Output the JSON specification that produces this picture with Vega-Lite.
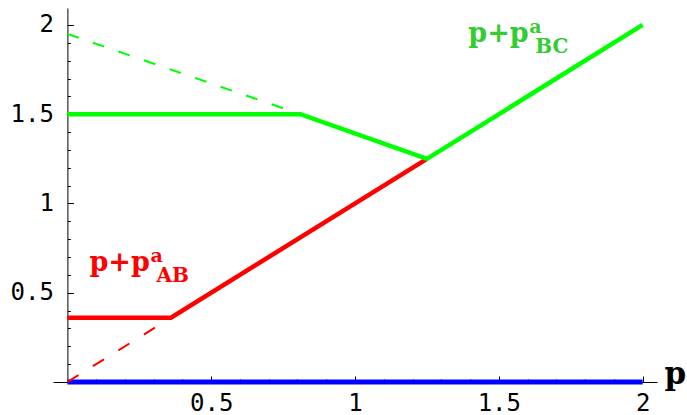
{
  "$schema": "https://vega.github.io/schema/vega-lite/v6.json",
  "width": 604,
  "height": 374,
  "autosize": {"type": "none"},
  "padding": {"left": 53, "top": 8, "right": 30, "bottom": 33},
  "background": "white",
  "config": {
    "view": {"stroke": null},
    "axis": {
      "grid": false,
      "domainColor": "black",
      "domainWidth": 1,
      "tickColor": "black",
      "tickWidth": 1,
      "labelFont": "DejaVu Sans Mono",
      "labelFontSize": 24,
      "labelColor": "black",
      "labelOverlap": false,
      "labelFlush": false
    }
  },
  "resolve": {"axis": {"x": "independent", "y": "independent"}},
  "datasets": {
    "lines": [
      {"s": "blue", "x": 0, "y": 0},
      {"s": "blue", "x": 2, "y": 0},
      {"s": "redDash", "x": 0, "y": 0},
      {"s": "redDash", "x": 0.36, "y": 0.36},
      {"s": "red", "x": 0, "y": 0.36},
      {"s": "red", "x": 0.36, "y": 0.36},
      {"s": "red", "x": 1.25, "y": 1.25},
      {"s": "greenDash", "x": 0, "y": 1.95},
      {"s": "greenDash", "x": 0.81, "y": 1.5},
      {"s": "green", "x": 0, "y": 1.5},
      {"s": "green", "x": 0.81, "y": 1.5},
      {"s": "green", "x": 1.25, "y": 1.25},
      {"s": "green", "x": 2, "y": 2}
    ],
    "labels": [
      {"x": 0.0765, "y": 0.622, "main": "p+p", "sup": "a", "sub": "AB", "c": "red"},
      {"x": 1.394, "y": 1.905, "main": "p+p", "sup": "a", "sub": "BC", "c": "green"}
    ]
  },
  "layer": [
    {
      "data": {"name": "lines"},
      "transform": [{"filter": "datum.s == 'blue'"}],
      "mark": {"type": "line", "color": "#0000ff", "strokeWidth": 5},
      "encoding": {
        "x": {
          "field": "x", "type": "quantitative",
          "scale": {"domain": [-0.05, 2.05], "nice": false, "zero": false},
          "axis": {
            "orient": "bottom",
            "values": [0.5, 1, 1.5, 2],
            "tickSize": -6,
            "labelExpr": "datum.value == 1 ? '1' : datum.value == 2 ? '2' : datum.label",
            "format": ".1f",
            "labelPadding": 15,
            "labelBaseline": "top",
            "title": "p",
            "titleFont": "DejaVu Serif",
            "titleFontWeight": "bold",
            "titleFontSize": 31,
            "titleColor": "black",
            "titleX": 611,
            "titleY": 1,
            "titleAlign": "left",
            "titleBaseline": "alphabetic",
            "titleAngle": 0
          }
        },
        "y": {
          "field": "y", "type": "quantitative",
          "scale": {"domain": [0, 2.095], "nice": false, "zero": false},
          "axis": {
            "orient": "left",
            "offset": -14.4,
            "values": [0.5, 1, 1.5, 2],
            "tickSize": -6,
            "labelExpr": "datum.value == 1 ? '1' : datum.value == 2 ? '2' : datum.label",
            "format": ".1f",
            "labelPadding": 20,
            "labelBaseline": "middle",
            "title": null
          }
        }
      }
    },
    {
      "data": {"name": "lines"},
      "transform": [{"filter": "datum.s == 'redDash'"}],
      "mark": {"type": "line", "color": "#ff0000", "strokeWidth": 2, "strokeDash": [13, 17]},
      "encoding": {
        "x": {"field": "x", "type": "quantitative",
          "axis": {"orient": "bottom", "values": [0.1,0.2,0.3,0.4,0.6,0.7,0.8,0.9,1.1,1.2,1.3,1.4,1.6,1.7,1.8,1.9], "tickSize": -3, "labels": false, "domain": false, "title": null}},
        "y": {"field": "y", "type": "quantitative",
          "axis": {"orient": "left", "offset": -14.4, "values": [0.1,0.2,0.3,0.4,0.6,0.7,0.8,0.9,1.1,1.2,1.3,1.4,1.6,1.7,1.8,1.9], "tickSize": -3, "labels": false, "domain": false, "title": null}}
      }
    },
    {
      "data": {"name": "lines"},
      "transform": [{"filter": "datum.s == 'red'"}],
      "mark": {"type": "line", "color": "#ff0000", "strokeWidth": 4.5},
      "encoding": {"x": {"field": "x", "type": "quantitative", "axis": null}, "y": {"field": "y", "type": "quantitative", "axis": null}}
    },
    {
      "data": {"name": "lines"},
      "transform": [{"filter": "datum.s == 'greenDash'"}],
      "mark": {"type": "line", "color": "#00ff00", "strokeWidth": 2, "strokeDash": [12, 15]},
      "encoding": {"x": {"field": "x", "type": "quantitative", "axis": null}, "y": {"field": "y", "type": "quantitative", "axis": null}}
    },
    {
      "data": {"name": "lines"},
      "transform": [{"filter": "datum.s == 'green'"}],
      "mark": {"type": "line", "color": "#00ff00", "strokeWidth": 4.5},
      "encoding": {"x": {"field": "x", "type": "quantitative", "axis": null}, "y": {"field": "y", "type": "quantitative", "axis": null}}
    },
    {
      "data": {"name": "labels"},
      "mark": {"type": "text", "font": "DejaVu Serif", "fontWeight": "bold", "fontSize": 27, "align": "left", "baseline": "alphabetic"},
      "encoding": {
        "x": {"field": "x", "type": "quantitative", "axis": null},
        "y": {"field": "y", "type": "quantitative", "axis": null},
        "text": {"field": "main"},
        "color": {"field": "c", "type": "nominal", "scale": {"domain": ["red", "green"], "range": ["#ff0000", "#33cc33"]}, "legend": null}
      }
    },
    {
      "data": {"name": "labels"},
      "mark": {"type": "text", "font": "DejaVu Serif", "fontWeight": "bold", "fontSize": 19, "align": "left", "baseline": "alphabetic", "dx": 61, "dy": -9},
      "encoding": {
        "x": {"field": "x", "type": "quantitative", "axis": null},
        "y": {"field": "y", "type": "quantitative", "axis": null},
        "text": {"field": "sup"},
        "color": {"field": "c", "type": "nominal", "legend": null}
      }
    },
    {
      "data": {"name": "labels"},
      "mark": {"type": "text", "font": "DejaVu Serif", "fontWeight": "bold", "fontSize": 20, "align": "left", "baseline": "alphabetic", "dx": 67, "dy": 11},
      "encoding": {
        "x": {"field": "x", "type": "quantitative", "axis": null},
        "y": {"field": "y", "type": "quantitative", "axis": null},
        "text": {"field": "sub"},
        "color": {"field": "c", "type": "nominal", "legend": null}
      }
    }
  ]
}
